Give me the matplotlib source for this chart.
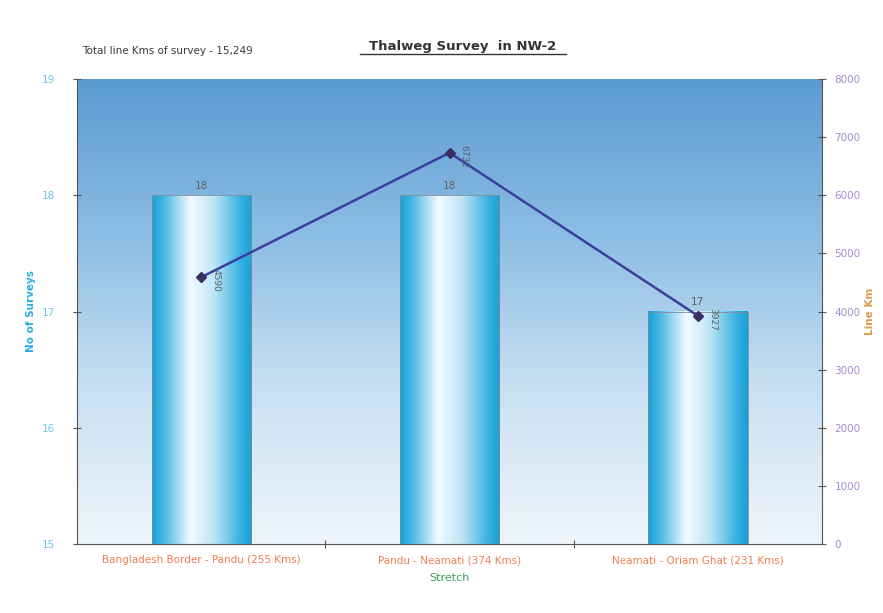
import numpy as np
import matplotlib.pyplot as plt
from matplotlib.colors import LinearSegmentedColormap
from matplotlib.patches import Rectangle

# data
stretches = ['Bangladesh Border - Pandu (255 Kms)', 'Pandu - Neamati (374 Kms)',
             'Neamati - Oriam Ghat (231 Kms)']
surveys = [18, 18, 17]
line_km = [4590, 6732, 3927]

fig = plt.figure(figsize=(8.83, 6.13), dpi=100)
fig.patch.set_facecolor('white')
ax = fig.add_axes([0.0872, 0.1126, 0.8438, 0.7584])

x = np.arange(len(stretches))
width = 0.4

# background gradient of the plot area
bg = LinearSegmentedColormap.from_list('bg', ['#eef5fb', '#c9e0f2', '#8cbde4', '#5b9bd2'])
grad = np.linspace(0, 1, 256).reshape(-1, 1)
ax.imshow(grad, cmap=bg, aspect='auto', origin='lower',
          extent=(-0.5, 2.5, 15, 19), zorder=0)

# cylinder-looking bars
barcm = LinearSegmentedColormap.from_list(
    'bar', [(0, '#159fd6'), (0.12, '#4ab8e4'), (0.38, '#f2fbff'),
            (0.62, '#bfe6f6'), (0.88, '#3ab2e2'), (1, '#1a9fd4')])
hgrad = np.linspace(0, 1, 256).reshape(1, -1)
bars = ax.bar(x, surveys, width, bottom=0, color='none', zorder=2)
for xi, v in zip(x, surveys):
    ax.imshow(hgrad, cmap=barcm, aspect='auto',
              extent=(xi - width / 2, xi + width / 2, 15, v), zorder=2)
    ax.add_patch(Rectangle((xi - width / 2, 15), width, v - 15, fill=False,
                           edgecolor='#7f8f99', lw=0.6, zorder=3))
    ax.text(xi, v + 0.04, str(v), ha='center', va='bottom', fontsize=7.5,
            color='#606060', zorder=4)

ax.set_xlim(-0.5, 2.5)
ax.set_ylim(15, 19)
ax.set_yticks([15, 16, 17, 18, 19])
ax.set_xticks([0.5, 1.5], minor=False)
ax.set_xticklabels([])
ax.set_xticks(x, minor=True)
ax.set_xticklabels(stretches, minor=True, fontsize=7.5, color='#f07e50')
ax.tick_params(axis='x', which='minor', length=0, pad=8)
ax.tick_params(axis='x', which='major', direction='inout', length=6, color='#555555')
ax.tick_params(axis='y', direction='inout', length=6, colors='#555555',
               labelcolor='#70c8e8', labelsize=7.5, pad=13)
ax.set_ylabel('No of Surveys', color='#2aaee0', fontsize=7.5, fontweight='bold', labelpad=4)
ax.set_xlabel('Stretch', color='#3f9f5a', fontsize=8, labelpad=6)
for s in ['top', 'right']:
    ax.spines[s].set_visible(False)
for s in ['left', 'bottom']:
    ax.spines[s].set_color('#555555')
    ax.spines[s].set_linewidth(0.8)

# line series on secondary axis
ax2 = ax.twinx()
ax2.plot(x, line_km, color='#3b3f9e', lw=1.8, marker='D', ms=5,
         mfc='#3a2f5e', mec='#3a2f5e', zorder=5)
for xi, v in zip(x, line_km):
    ax2.text(xi + 0.04, v - 60, str(v), rotation=270, ha='left', va='center',
             fontsize=6.5, color='#606060', zorder=6)
ax2.set_ylim(0, 8000)
ax2.set_yticks(range(0, 8001, 1000))
ax2.tick_params(axis='y', direction='inout', length=6, colors='#555555',
                labelcolor='#a58bd0', labelsize=7.5, pad=6)
ax2.set_ylabel('Line Km', color='#e09a4a', fontsize=7.5, fontweight='bold', labelpad=3)
for s in ['top', 'left', 'bottom']:
    ax2.spines[s].set_visible(False)
ax2.spines['right'].set_color('#555555')
ax2.spines['right'].set_linewidth(0.8)

fig.text(0.093, 0.912, 'Total line Kms of survey - 15,249', fontsize=7.5, color='#3a3a3a')
fig.text(0.524, 0.918, 'Thalweg Survey  in NW-2', fontsize=9.5, color='#333333',
         fontweight='bold', ha='center')
fig.add_artist(plt.Line2D([0.408, 0.641], [0.912, 0.912], color='#333333', lw=1,
                          transform=fig.transFigure))

fig.savefig('out.png', dpi=100)
